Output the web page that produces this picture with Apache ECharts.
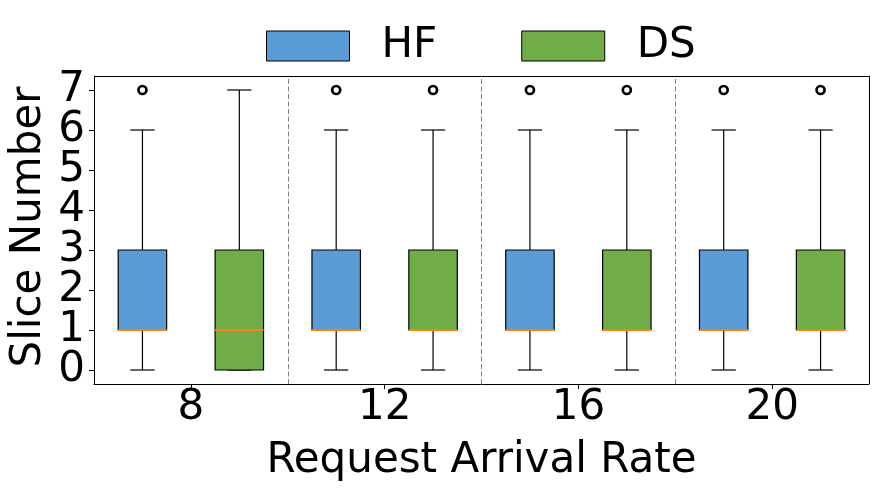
<!DOCTYPE html>
<html><head><meta charset="utf-8">
<script src="https://cdn.jsdelivr.net/npm/echarts@6/dist/echarts.min.js"></script>
<style>html,body{margin:0;padding:0;background:#fff}#c{width:878px;height:493px}</style>
</head><body><div id="c"></div>
<script>
var rates = [8, 12, 16, 20];
var hfMin = [0, 0, 0, 0];
var hfQ1  = [1, 1, 1, 1];
var hfMed = [1, 1, 1, 1];
var hfQ3  = [3, 3, 3, 3];
var hfMax = [6, 6, 6, 6];
var hfOut = [7, 7, 7, 7];
var dsMin = [0, 0, 0, 0];
var dsQ1  = [0, 1, 1, 1];
var dsMed = [1, 1, 1, 1];
var dsQ3  = [3, 3, 3, 3];
var dsMax = [7, 6, 6, 6];
var dsOut = [null, 7, 7, 7];
var yTicks = [0, 1, 2, 3, 4, 5, 6, 7];
var separators = [10, 14, 18];

var FONT = 'DejaVu Sans';
var FS = 42;
var BLUE = '#5B9BD5', GREEN = '#70AD47';

// even ticks first, then odd ones, so neighbouring labels are never compared for overlap
var yTickOrder = yTicks.filter(function (v, i) { return i % 2 === 0; })
  .concat(yTicks.filter(function (v, i) { return i % 2 === 1; }));

function boxData(off, mn, q1, md, q3, mx) {
  return rates.map(function (r, i) { return [r + off, mn[i], q1[i], md[i], q3[i], mx[i]]; });
}
function outData(off, out) {
  var d = [];
  rates.forEach(function (r, i) { if (out[i] != null) d.push([r + off, out[i]]); });
  return d;
}
function renderBox(color) {
  return function (params, api) {
    var x = api.value(0);
    var w = api.size([1, 0])[0];
    var cw = api.size([0.5, 0])[0];
    var pMin = api.coord([x, api.value(1)]);
    var pQ1 = api.coord([x, api.value(2)]);
    var pMed = api.coord([x, api.value(3)]);
    var pQ3 = api.coord([x, api.value(4)]);
    var pMax = api.coord([x, api.value(5)]);
    var cx = pMin[0];
    var ls = { stroke: '#000', lineWidth: 1.2 };
    return { type: 'group', children: [
      { type: 'line', shape: { x1: cx, y1: pQ1[1], x2: cx, y2: pMin[1] }, style: ls },
      { type: 'line', shape: { x1: cx, y1: pQ3[1], x2: cx, y2: pMax[1] }, style: ls },
      { type: 'line', shape: { x1: cx - cw / 2, y1: pMin[1], x2: cx + cw / 2, y2: pMin[1] }, style: ls },
      { type: 'line', shape: { x1: cx - cw / 2, y1: pMax[1], x2: cx + cw / 2, y2: pMax[1] }, style: ls },
      { type: 'rect', shape: { x: cx - w / 2, y: pQ3[1], width: w, height: pQ1[1] - pQ3[1] }, style: { fill: color, stroke: '#000', lineWidth: 1.2 } },
      { type: 'line', shape: { x1: cx - w / 2, y1: pMed[1], x2: cx + w / 2, y2: pMed[1] }, style: { stroke: '#ff7f0e', lineWidth: 2 } }
    ]};
  };
}

var chart = echarts.init(document.getElementById('c'), null, { renderer: 'canvas' });
chart.setOption({
  animation: false,
  textStyle: { fontFamily: FONT },
  grid: { left: 94, right: 9, top: 76, bottom: 109, containLabel: false },
  legend: {
    data: [{ name: 'HF', icon: 'rect' }, { name: 'DS', icon: 'rect' }],
    top: 20, left: 261,
    itemWidth: 83, itemHeight: 30, itemGap: 84,
    itemStyle: { borderColor: '#000', borderWidth: 1 },
    textStyle: { fontFamily: FONT, fontSize: FS, color: '#000', padding: [0, 0, 0, 27] }
  },
  xAxis: {
    type: 'value', min: 6, max: 22,
    name: 'Request Arrival Rate', nameLocation: 'middle', nameGap: 56,
    nameTextStyle: { fontFamily: FONT, fontSize: FS, color: '#000' },
    axisLine: { show: true, onZero: false, lineStyle: { color: '#000', width: 1 } },
    axisTick: { show: true, length: 5, lineStyle: { color: '#000' }, customValues: rates },
    axisLabel: { fontFamily: FONT, fontSize: FS, color: '#000', margin: 3, customValues: rates,
      hideOverlap: false, showMinLabel: true, showMaxLabel: true, interval: 0 },
    splitLine: { show: false }
  },
  yAxis: {
    type: 'value', min: -0.35, max: 7.35,
    name: 'Slice Number', nameLocation: 'middle', nameGap: 44, nameMoveOverlap: false,
    nameTextStyle: { fontFamily: FONT, fontSize: FS, color: '#000', padding: [0, 0, 0, 6] },
    axisLine: { show: true, onZero: false, lineStyle: { color: '#000', width: 1 } },
    axisTick: { show: true, length: 5, lineStyle: { color: '#000' }, customValues: yTickOrder },
    axisLabel: { fontFamily: FONT, fontSize: FS, color: '#000', margin: 9, customValues: yTickOrder,
      hideOverlap: false, showMinLabel: true, showMaxLabel: true, interval: 0 },
    splitLine: { show: false }
  },
  series: [
    { name: 'HF', type: 'custom', itemStyle: { color: BLUE }, renderItem: renderBox(BLUE),
      encode: { x: 0, y: [1, 2, 3, 4, 5] }, data: boxData(-1, hfMin, hfQ1, hfMed, hfQ3, hfMax), z: 3,
      markLine: { silent: true, symbol: 'none', label: { show: false },
        lineStyle: { color: '#808080', type: [5, 2.5], width: 1 },
        data: separators.map(function (s) { return { xAxis: s }; }) } },
    { name: 'DS', type: 'custom', itemStyle: { color: GREEN }, renderItem: renderBox(GREEN),
      encode: { x: 0, y: [1, 2, 3, 4, 5] }, data: boxData(1, dsMin, dsQ1, dsMed, dsQ3, dsMax), z: 3 },
    { name: 'HFout', type: 'scatter', symbol: 'circle', symbolSize: 8, data: outData(-1, hfOut),
      itemStyle: { color: '#fff', borderColor: '#000', borderWidth: 2.7, opacity: 1 }, z: 4 },
    { name: 'DSout', type: 'scatter', symbol: 'circle', symbolSize: 8, data: outData(1, dsOut),
      itemStyle: { color: '#fff', borderColor: '#000', borderWidth: 2.7, opacity: 1 }, z: 4 },
    { name: 'frame', type: 'line', data: [], markLine: { silent: true, symbol: 'none', label: { show: false },
      lineStyle: { color: '#000', type: 'solid', width: 1 },
      data: [{ yAxis: 7.35 }, { xAxis: 22 }] } }
  ]
});
</script></body></html>
